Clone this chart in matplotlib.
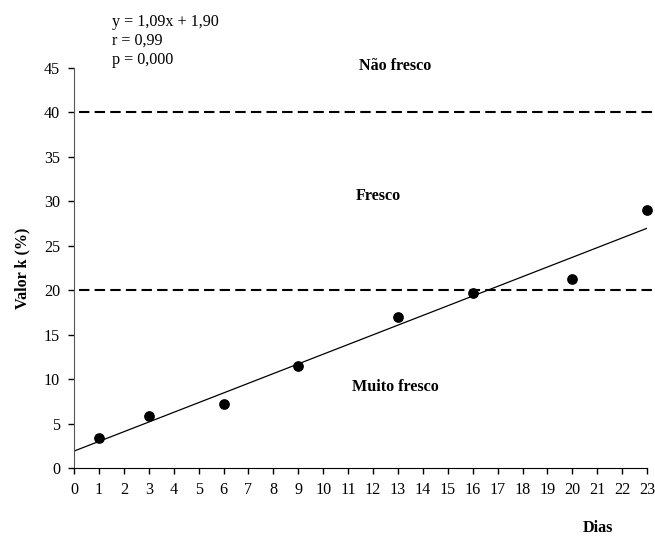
import matplotlib
matplotlib.use("Agg")
import matplotlib.pyplot as plt
import numpy as np

# data
dias = [1, 3, 6, 9, 13, 16, 20, 23]
valor_k = [3.4, 5.9, 7.2, 11.5, 17.0, 19.7, 21.3, 29.0]
slope, intercept = 1.09, 1.90
limites = [20, 40]
zonas = ["Muito fresco", "Fresco", "Não fresco"]
zona_pos = [(12.9, 9.1), (12.2, 30.6), (12.9, 45.2)]
stats_text = ["y = 1,09x + 1,90", "r = 0,99", "p = 0,000"]

plt.rcParams["font.family"] = ["Liberation Serif", "DejaVu Serif"]
plt.rcParams["font.size"] = 11.6

fig = plt.figure(figsize=(6.55, 5.37), dpi=100)
ax = fig.add_axes([0.113, 0.1285, 0.875, 0.745])

ax.set_xlim(0, 23)
ax.set_ylim(0, 45)
ax.set_xticks(range(0, 24))
ax.set_yticks(range(0, 46, 5))
ax.tick_params(direction="out", length=4, width=1, pad=6)

for s in ["top", "right"]:
    ax.spines[s].set_visible(False)
ax.spines["left"].set_color("#555555")
ax.spines["bottom"].set_color("black")

# threshold lines, running slightly past the axis end
for lim in limites:
    ax.axhline(lim, xmin=0.008, xmax=1.014, color="black", lw=1.5,
               dashes=(5, 2.5), clip_on=False)

# regression line
xr = np.array([0, 23])
ax.plot(xr, slope * xr + intercept, color="black", lw=0.9)

ax.scatter(dias, valor_k, s=45, color="black", zorder=3, clip_on=False)

for label, (xt, yt) in zip(zonas, zona_pos):
    ax.text(xt, yt, label, ha="center", va="center", fontweight="bold",
            clip_on=False)

ax.set_ylabel("Valor k (%)", fontweight="bold", labelpad=10)
fig.text(0.913, 0.017, "Dias", ha="center", va="center", fontweight="bold")

for i, t in enumerate(stats_text):
    fig.text(0.171, 0.959 - i * 0.035, t, ha="left", va="center")

fig.savefig("out.png", dpi=100)
